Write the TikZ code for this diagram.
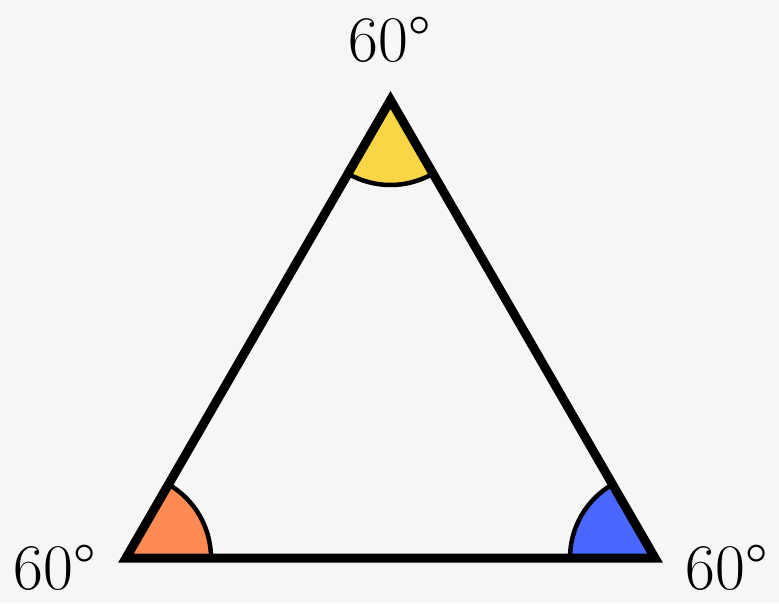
\documentclass[tikz,border=0pt]{standalone}
\definecolor{ink}{HTML}{000000}
\definecolor{paper}{HTML}{F6F6F4}
\definecolor{angyellow}{HTML}{FAD646}
\definecolor{angorange}{HTML}{FF8A52}
\definecolor{angblue}{HTML}{4A67FF}
\newcommand{\figfontsize}{\fontsize{65}{72}\selectfont}
\tikzset{
  every picture/.style = {font=\figfontsize},
  edge/.style          = {line width=9pt},
  hair/.style          = {line width=4.5pt},
}

\begin{document}
\begin{tikzpicture}[x=1pt, y=1pt]
  \def\R{85}   % angle marker radius
  \tikzset{
    anglabel/.style = {text=ink, anchor=base, inner sep=0pt},
  }
  % one marker = coloured sector + its arc
  % \angmark{vertex}{start angle}{colour}
  \newcommand{\angmark}[3]{%
    \fill[#3] (#1) -- ++(#2:\R) arc[start angle=#2, end angle=#2+60, radius=\R] -- cycle;
    \draw[ink, hair] (#1) ++(#2:\R) arc[start angle=#2, end angle=#2+60, radius=\R];
  }

  \fill[paper] (0,0) rectangle (779,603);

  \coordinate (A) at (126,45);
  \coordinate (B) at (655,45);
  \coordinate (C) at (390.5,503);

  \angmark{A}{0}{angorange}
  \angmark{B}{120}{angblue}
  \angmark{C}{240}{angyellow}

  % the triangle on top of the markers
  \draw[ink, edge] (A) -- (B) -- (C) -- cycle;

  \node[anglabel] (labC) at (390,541) {60\textdegree};
  \node[anglabel] (labA) at (55,14)   {60\textdegree};
  \node[anglabel] (labB) at (727,14)  {60\textdegree};
\end{tikzpicture}
\end{document}
